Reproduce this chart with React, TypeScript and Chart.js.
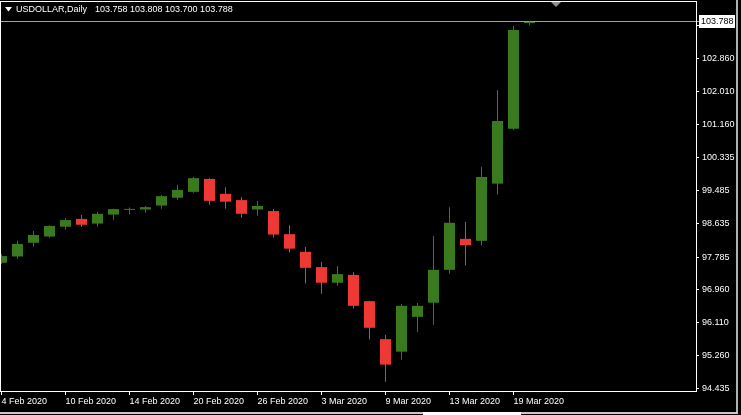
import React, { useEffect, useRef } from "react";
import { Chart, registerables } from "chart.js";

Chart.register(...registerables);

const symbolName = "USDOLLAR,Daily";

const dates = [
  "4 Feb 2020", "5 Feb 2020", "6 Feb 2020", "7 Feb 2020",
  "10 Feb 2020", "11 Feb 2020", "12 Feb 2020", "13 Feb 2020", "14 Feb 2020",
  "17 Feb 2020", "18 Feb 2020", "19 Feb 2020", "20 Feb 2020", "21 Feb 2020",
  "24 Feb 2020", "25 Feb 2020", "26 Feb 2020", "27 Feb 2020", "28 Feb 2020",
  "2 Mar 2020", "3 Mar 2020", "4 Mar 2020", "5 Mar 2020", "6 Mar 2020",
  "9 Mar 2020", "10 Mar 2020", "11 Mar 2020", "12 Mar 2020", "13 Mar 2020",
  "16 Mar 2020", "17 Mar 2020", "18 Mar 2020", "19 Mar 2020", "20 Mar 2020",
];

const opens = [
  97.64, 97.80, 98.15, 98.31, 98.56, 98.76, 98.64, 98.87, 98.99, 99.00,
  99.10, 99.30, 99.45, 99.78, 99.40, 99.24, 99.00, 98.96, 98.37, 97.92,
  97.53, 97.13, 97.33, 96.66, 95.69, 95.37, 96.26, 96.62, 97.46, 98.25,
  98.20, 99.66, 101.06, 103.758,
];
const highs = [
  97.86, 98.20, 98.45, 98.60, 98.78, 98.86, 98.94, 99.02, 99.05, 99.09,
  99.37, 99.63, 99.83, 99.80, 99.57, 99.32, 99.22, 99.01, 98.60, 98.04,
  97.66, 97.56, 97.40, 96.67, 95.80, 96.59, 96.61, 98.32, 99.06, 98.68,
  100.09, 102.05, 103.69, 103.808,
];
const lows = [
  97.61, 97.74, 98.05, 98.28, 98.48, 98.56, 98.56, 98.74, 98.87, 98.92,
  99.02, 99.25, 99.43, 99.12, 99.02, 98.79, 98.84, 98.28, 97.90, 97.11,
  96.85, 97.05, 96.47, 95.68, 94.60, 95.17, 95.88, 96.06, 97.36, 97.57,
  98.08, 99.38, 101.03, 103.700,
];
const closes = [
  97.81, 98.12, 98.35, 98.58, 98.73, 98.61, 98.89, 99.01, 99.01, 99.06,
  99.34, 99.50, 99.80, 99.22, 99.20, 98.89, 99.09, 98.36, 98.00, 97.51,
  97.13, 97.35, 96.54, 95.98, 95.04, 96.54, 96.54, 97.46, 98.66, 98.09,
  99.83, 101.26, 103.58, 103.788,
];

const priceTicks = [
  94.435, 95.26, 96.11, 96.96, 97.785, 98.635, 99.485, 100.335,
  101.16, 102.01, 102.86, 103.71,
];
const dateTickIndices = [0, 4, 8, 12, 16, 20, 24, 28, 32];

const BULL = "rgb(58,122,30)";
const BEAR = "rgb(238,56,52)";
const FONT = "'Liberation Sans', Arial, sans-serif";

export default function App() {
  const canvasRef = useRef<HTMLCanvasElement | null>(null);

  useEffect(() => {
    document.body.style.margin = "0";
    document.body.style.background = "#000";
    const canvas = canvasRef.current;
    if (!canvas) return;

    const colors = opens.map((o, i) => (closes[i] >= o ? BULL : BEAR));
    const bodies = opens.map((o, i) => ({ x: i, y: [o, closes[i]] }));
    const wicks = lows.map((l, i) => ({ x: i, y: [l, highs[i]] }));
    const last = opens.length - 1;

    const decorPlugin = {
      id: "mtDecor",
      beforeDraw(chart: any) {
        const ctx = chart.ctx;
        ctx.save();
        ctx.fillStyle = "#000";
        ctx.fillRect(0, 0, chart.width, chart.height);
        ctx.restore();
      },
      beforeDatasetsDraw(chart: any) {
        const ctx = chart.ctx;
        const y = Math.floor(chart.scales.y.getPixelForValue(closes[last])) + 0.5;
        ctx.save();
        ctx.strokeStyle = "#a0a0a0";
        ctx.lineWidth = 1;
        ctx.beginPath();
        ctx.moveTo(1, y);
        ctx.lineTo(699, y);
        ctx.stroke();
        ctx.restore();
      },
      afterDraw(chart: any) {
        const ctx = chart.ctx;
        const area = chart.chartArea;
        ctx.save();
        // frame
        ctx.strokeStyle = "#ffffff";
        ctx.lineWidth = 1;
        ctx.strokeRect(area.left + 0.5, area.top + 0.5, area.right - area.left, area.bottom - area.top);

        // title
        ctx.fillStyle = "#ffffff";
        ctx.beginPath();
        ctx.moveTo(5, 7);
        ctx.lineTo(12, 7);
        ctx.lineTo(8.5, 11.5);
        ctx.closePath();
        ctx.fill();
        ctx.font = "9px " + FONT;
        ctx.textBaseline = "alphabetic";
        ctx.textAlign = "left";
        ctx.fillText(symbolName, 16, 12);
        const w = ctx.measureText(symbolName).width;
        const ohlc = [opens[last], highs[last], lows[last], closes[last]]
          .map((v) => v.toFixed(3))
          .join(" ");
        ctx.fillText(ohlc, 16 + w + 8, 12);

        // shift marker
        ctx.fillStyle = "#909090";
        ctx.beginPath();
        ctx.moveTo(551, 2);
        ctx.lineTo(561, 2);
        ctx.lineTo(556, 7);
        ctx.closePath();
        ctx.fill();

        // current price label
        const py = Math.floor(chart.scales.y.getPixelForValue(closes[last]));
        ctx.fillStyle = "#ffffff";
        ctx.fillRect(699, py - 6, 36, 13);
        ctx.fillStyle = "#000000";
        ctx.textBaseline = "middle";
        ctx.fillText(closes[last].toFixed(3), 701, py + 0.5);

        // window edges
        ctx.fillStyle = "#b0b0b0";
        ctx.fillRect(736, 0, 2, 413);
        ctx.fillStyle = "#c8c8c8";
        ctx.fillRect(0, 412, 738, 2);
        ctx.fillStyle = "#ffffff";
        ctx.fillRect(423, 412, 98, 3);
        ctx.restore();
      },
    };

    const chart = new Chart(canvas, {
      type: "bar",
      data: {
        datasets: [
          {
            label: "body",
            data: bodies as any,
            backgroundColor: colors,
            borderWidth: 0,
            barThickness: 11,
            grouped: false,
            minBarLength: 1,
            inflateAmount: 0,
            order: 0,
          } as any,
          {
            label: "wick",
            data: wicks as any,
            backgroundColor: colors,
            borderWidth: 0,
            barThickness: 1,
            grouped: false,
            minBarLength: 1,
            inflateAmount: 0,
            order: 1,
          } as any,
        ],
      },
      options: {
        responsive: false,
        maintainAspectRatio: false,
        devicePixelRatio: 1,
        animation: false,
        layout: { padding: { top: 1, left: 0, right: 0, bottom: 0 } },
        plugins: { legend: { display: false }, tooltip: { enabled: false } },
        scales: {
          x: {
            type: "linear",
            offset: false,
            min: -1.5 / 16,
            max: -1.5 / 16 + 696 / 16,
            border: { display: false },
            grid: {
              offset: false,
              drawOnChartArea: false,
              drawTicks: true,
              tickLength: 4,
              color: "#ffffff",
            },
            ticks: {
              color: "#ffffff",
              font: { family: FONT, size: 9 },
              align: "start",
              padding: 1,
              maxRotation: 0,
              autoSkip: false,
              callback: (v: any) => dates[Number(v)] ?? "",
            },
            afterBuildTicks: (s: any) => {
              s.ticks = dateTickIndices.map((v) => ({ value: v }));
            },
            afterFit: (s: any) => {
              s.height = 24;
              s.paddingLeft = 0;
              s.paddingRight = 0;
            },
          } as any,
          y: {
            type: "linear",
            position: "right",
            beginAtZero: false,
            min: 94.366,
            max: 104.323,
            border: { display: false },
            grid: {
              drawOnChartArea: false,
              drawTicks: true,
              tickLength: 3,
              color: "#ffffff",
            },
            ticks: {
              color: "#ffffff",
              font: { family: FONT, size: 9 },
              padding: 3,
              autoSkip: false,
              callback: (v: any) => Number(v).toFixed(3),
            },
            afterBuildTicks: (s: any) => {
              s.ticks = priceTicks.map((v) => ({ value: v }));
            },
            afterFit: (s: any) => {
              s.width = 45;
              s.paddingTop = 0;
              s.paddingBottom = 0;
            },
          } as any,
        },
      },
      plugins: [decorPlugin],
    });

    return () => chart.destroy();
  }, []);

  return (
    <div style={{ position: "fixed", left: 0, top: 0, width: 741, height: 415, background: "#000" }}>
      <canvas ref={canvasRef} width={741} height={415} style={{ display: "block" }} />
    </div>
  );
}
